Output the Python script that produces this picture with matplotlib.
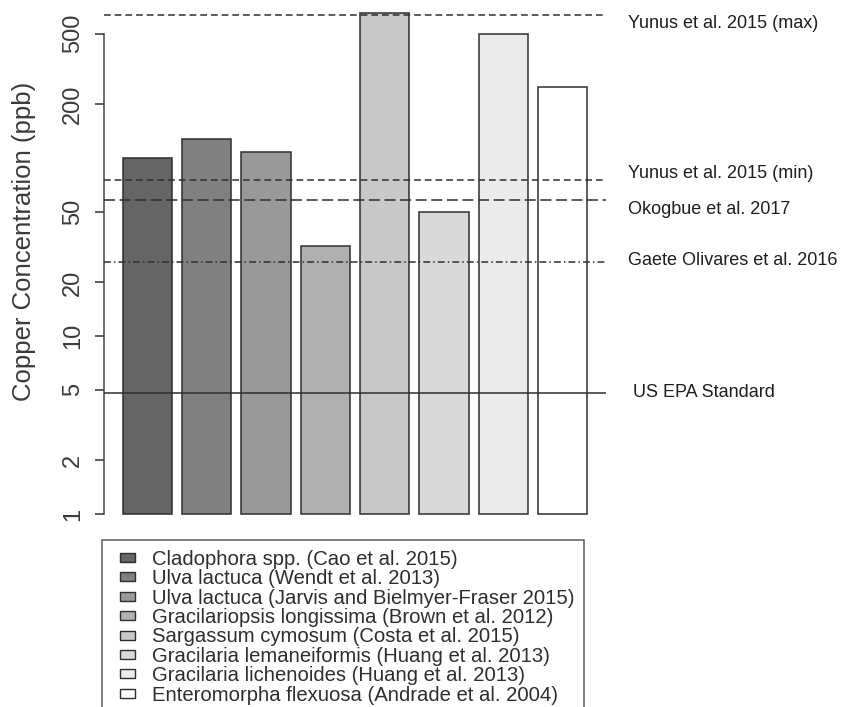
import numpy as np
import matplotlib
matplotlib.use("Agg")
import matplotlib.pyplot as plt
from matplotlib.patches import Patch, Rectangle
from matplotlib.legend_handler import HandlerPatch
from matplotlib.ticker import NullLocator
import matplotlib.transforms as mtransforms

plt.rcParams['font.family'] = ['Liberation Sans', 'DejaVu Sans']

# copper in macroalgae (ppb)
species = [
    "Cladophora spp. (Cao et al. 2015)",
    "Ulva lactuca (Wendt et al. 2013)",
    "Ulva lactuca (Jarvis and Bielmyer-Fraser 2015)",
    "Gracilariopsis longissima (Brown et al. 2012)",
    "Sargassum cymosum (Costa et al. 2015)",
    "Gracilaria lemaneiformis (Huang et al. 2013)",
    "Gracilaria lichenoides (Huang et al. 2013)",
    "Enteromorpha flexuosa (Andrade et al. 2004)",
]
copper_ppb = [100, 128, 108, 32, 650, 50, 500, 250]
bar_grays = ["#656565", "#808080", "#999999", "#b0b0b0",
             "#c8c8c8", "#d9d9d9", "#ebebeb", "#ffffff"]

# reference levels drawn as horizontal lines
ref_names = ["Yunus et al. 2015 (max)", "Yunus et al. 2015 (min)",
             "Okogbue et al. 2017", "Gaete Olivares et al. 2016",
             "US EPA Standard"]
ref_ppb = [635, 75, 58, 26, 4.8]
ref_dashes = [(0, (4.4, 2.6)), (0, (4.4, 2.6)), (0, (7.2, 3.0)),
              (0, (4.5, 2.0, 1.0, 2.0)), "-"]
ref_text_offset = [(16, -6), (16, 5), (16, -7), (16, 1), (19.5, 0)]

y_ticks = [1, 2, 5, 10, 20, 50, 200, 500]

W, H = 842, 707
fig = plt.figure(figsize=(W / 100, H / 100), dpi=100)
ax = fig.add_axes([104 / W, (H - 534) / H, 502 / W, 539 / H])

line_col = "#2e2e2e"
x = 0.7 + 1.2 * np.arange(len(copper_ppb))
heights = np.array(copper_ppb, dtype=float) - 1
ax.bar(x, heights, bottom=1, width=1.0, color=bar_grays,
       edgecolor=line_col, linewidth=1.1, zorder=2)

ax.set_yscale("log")
ax.set_ylim(0.772, 824)
ax.set_xlim(-0.176, 9.976)

for name, val, ls, off in zip(ref_names, ref_ppb, ref_dashes, ref_text_offset):
    ax.axhline(val, color=line_col, linestyle=ls, linewidth=1.1, zorder=3)
    ax.annotate(name, xy=(1, val),
                xycoords=mtransforms.blended_transform_factory(ax.transAxes, ax.transData),
                xytext=off, textcoords="offset points", ha="left", va="center",
                fontsize=13, color="#1e1e1e", annotation_clip=False)

for side in ["top", "right", "bottom"]:
    ax.spines[side].set_visible(False)
ax.spines["left"].set_bounds(1, 500)
ax.spines["left"].set_color("#444444")
ax.spines["left"].set_linewidth(1.1)
ax.set_xticks([])
ax.set_yticks(y_ticks)
ax.set_yticklabels([str(t) for t in y_ticks])
ax.yaxis.set_minor_locator(NullLocator())
ax.tick_params(axis="y", length=6.5, width=1.1, color="#333333",
               labelsize=17, labelcolor="#3a3a3a", pad=8, labelrotation=90)
plt.setp(ax.get_yticklabels(), va="center")

fig.text(24 / W, 1 - 241 / H, "Copper Concentration (ppb)", rotation=90,
         ha="center", va="center", fontsize=18.5, color="#3a3a3a")


def small_box(legend, orig_handle, xdescent, ydescent, width, height, fontsize):
    # small square sitting at the right of the handle box
    w, h = 15 * 0.72, 9 * 0.72
    return Rectangle((width - xdescent - w, -ydescent + (height - h) / 2), w, h)


handles = [Patch(facecolor=c, edgecolor=line_col, linewidth=1.0) for c in bar_grays]
leg = fig.legend(handles, species, loc="upper left",
                 bbox_to_anchor=(102 / W, 1 - 540 / H), bbox_transform=fig.transFigure,
                 fontsize=14.6, frameon=True, fancybox=False, borderaxespad=0,
                 borderpad=0.48, handlelength=1.15, handleheight=0.46,
                 handletextpad=0.84, labelspacing=0.02,
                 handler_map={Patch: HandlerPatch(patch_func=small_box)})
leg.get_frame().set_edgecolor("#333333")
leg.get_frame().set_linewidth(1.1)
for t in leg.get_texts():
    t.set_color("#2e2e2e")

fig.savefig("out.png", dpi=100)
